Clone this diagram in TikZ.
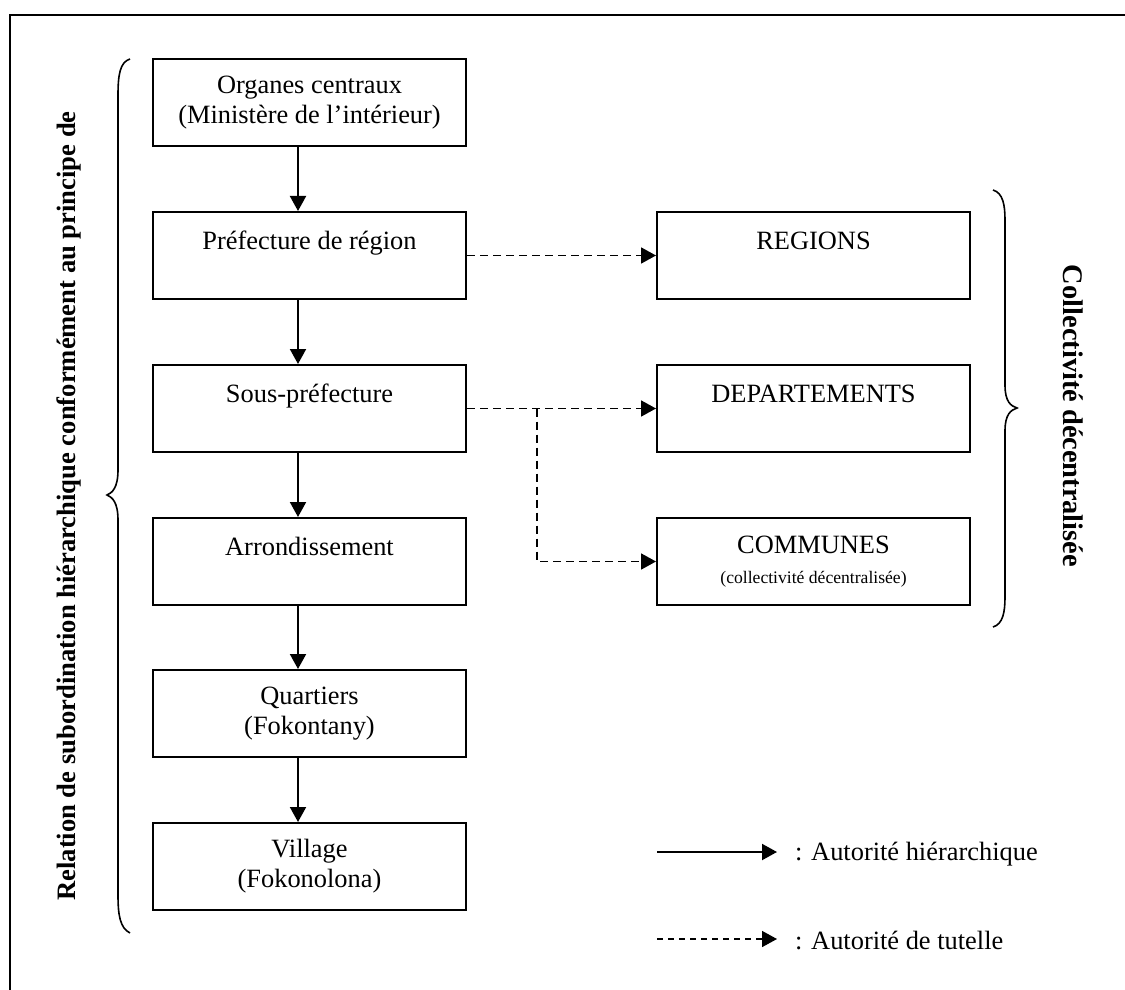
\documentclass[tikz,border=0pt]{standalone}
\usepackage{fontspec}
\setmainfont{Liberation Serif}
\usetikzlibrary{arrows.meta}
\begin{document}
\begin{tikzpicture}[x=0.5pt,y=-0.5pt,
  box/.style={draw,line width=1pt,minimum width=156.5pt,minimum height=43.5pt,align=center,inner sep=0pt,font=\fontsize{13.2}{15}\selectfont},
  hier/.style={line width=1pt,-{Triangle[length=7.5pt,width=8pt]}},
  tut/.style={line width=0.9pt,dash pattern=on 4pt off 2.5pt,-{Triangle[length=7.5pt,width=8pt]}},
  tutleg/.style={line width=0.8pt,dash pattern=on 3pt off 2.5pt,-{Triangle[length=7.5pt,width=8pt]}},
  lbl/.style={font=\fontsize{13.2}{15}\selectfont},
  sideL/.style={font=\bfseries\fontsize{13.3}{15}\selectfont},
  sideR/.style={font=\bfseries\fontsize{14.2}{16}\selectfont},
  brace/.style={line width=0.8pt}]
\useasboundingbox (0,0) rectangle (1125,990);
\draw[line width=1pt] (10,990) -- (10,15) -- (1125,15);

% left column
\node[box] (org) at (309.5,102.5) {Organes centraux\\(Ministère de l’intérieur)};
\node[box] (pref) at (309.5,255.5) {Préfecture de région\\\mbox{}};
\node[box] (spref) at (309.5,408.5) {Sous-préfecture\\\mbox{}};
\node[box] (arr) at (309.5,561.5) {Arrondissement\\\mbox{}};
\node[box] (qua) at (309.5,713.5) {Quartiers\\(Fokontany)};
\node[box] (vil) at (309.5,866.5) {Village\\(Fokonolona)};

% right column
\node[box] (reg) at (813.5,255.5) {REGIONS\\\mbox{}};
\node[box] (dep) at (813.5,408.5) {DEPARTEMENTS\\\mbox{}};
\node[box] (com) at (813.5,561.5) {COMMUNES\\{\fontsize{8.8}{10}\selectfont (collectivité décentralisée)}};

% hierarchical arrows
\draw[hier] ([xshift=-5.75pt]org.south) -- ([xshift=-5.75pt]pref.north);
\draw[hier] ([xshift=-5.75pt]pref.south) -- ([xshift=-5.75pt]spref.north);
\draw[hier] ([xshift=-5.75pt]spref.south) -- ([xshift=-5.75pt]arr.north);
\draw[hier] ([xshift=-5.75pt]arr.south) -- ([xshift=-5.75pt]qua.north);
\draw[hier] ([xshift=-5.75pt]qua.south) -- ([xshift=-5.75pt]vil.north);

% tutelle arrows
\draw[tut] (pref.east) -- (reg.west);
\draw[tut] (spref.east) -- (dep.west);
\coordinate (br) at (537,408.5);
\draw[tut] (br) |- (com.west);

% braces
\draw[brace] (130,59) .. controls (120,62) and (118,75) .. (118,95) -- (118,470)
  .. controls (118,488) and (112,493) .. (107,495)
  .. controls (112,497) and (118,502) .. (118,520) -- (118,895)
  .. controls (118,915) and (120,928) .. (130,933);
\draw[brace] (993,190) .. controls (1003,193) and (1005,205) .. (1005,220) -- (1005,385)
  .. controls (1005,402) and (1011,406) .. (1017,408)
  .. controls (1011,410) and (1005,414) .. (1005,431) -- (1005,597)
  .. controls (1005,612) and (1003,624) .. (993,627);

% side labels
\node[sideL,rotate=90] (rel) at (69,506) {Relation de subordination hiérarchique conformément au principe de};
\node[sideR,rotate=-90] (coll) at (1073,416) {Collectivité décentralisée};

% legend
\coordinate (h1) at (657,852); \coordinate (h2) at (777,852);
\draw[hier] (h1) -- (h2);
\node[lbl,anchor=west] (hl) at (788,854) {: Autorité hiérarchique};
\coordinate (t1) at (657,939); \coordinate (t2) at (777,939);
\draw[tutleg] (t1) -- (t2);
\node[lbl,anchor=west] (tl) at (788,941) {: Autorité de tutelle};
\end{tikzpicture}
\end{document}
